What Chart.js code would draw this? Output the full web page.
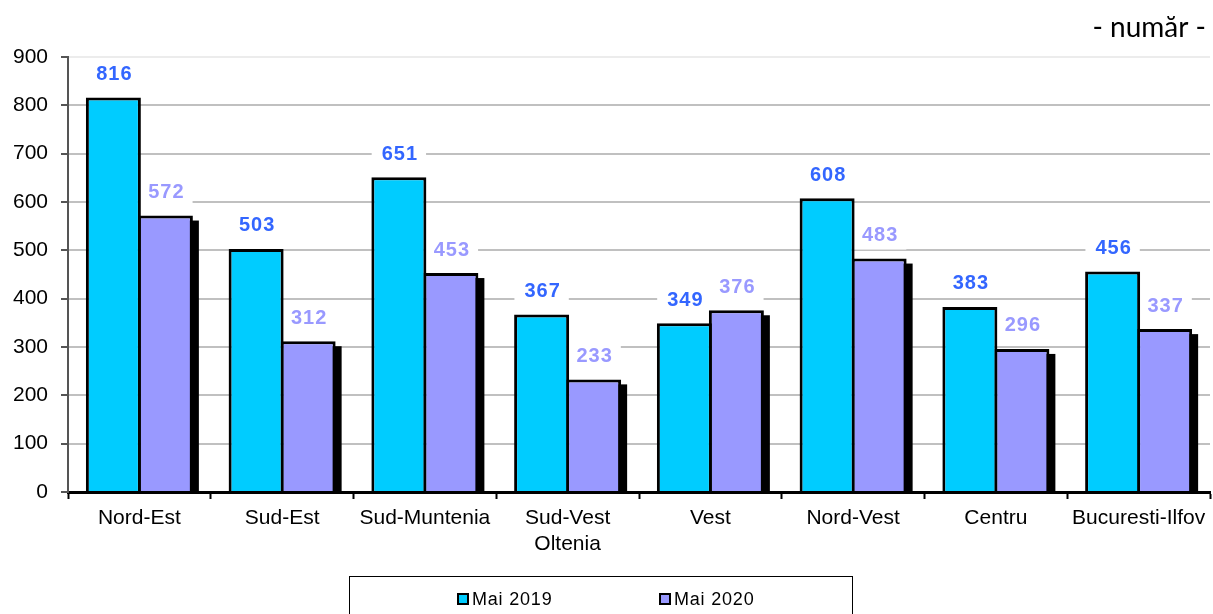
<!DOCTYPE html>
<html>
<head>
<meta charset="utf-8">
<script src="https://cdn.jsdelivr.net/npm/chart.js@4.4.1/dist/chart.umd.min.js"></script>
<style>
  html, body { margin: 0; padding: 0; background: #ffffff; }
  #wrap { width: 1213px; height: 614px; position: relative; }
</style>
</head>
<body>
<div id="wrap"><canvas id="regChart" width="1213" height="614"></canvas></div>
<script>
// Data
const regions = ['Nord-Est', 'Sud-Est', 'Sud-Muntenia', ['Sud-Vest', 'Oltenia'], 'Vest', 'Nord-Vest', 'Centru', 'Bucuresti-Ilfov'];
const mai2019 = [816, 503, 651, 367, 349, 608, 383, 456];
const mai2020 = [572, 312, 453, 233, 376, 483, 296, 337];
const seriesNames = ['Mai 2019', 'Mai 2020'];
const yMin = 0;
const yMax = 900;
const yStep = 100;

const FONT = "'Liberation Sans', Arial, sans-serif";
const barColors = ['#00CCFF', '#9999FF'];
const labelColors = ['#3366FF', '#9999FF'];

// black drop shadow behind the right-hand bar of each group
const shadowPlugin = {
  id: 'barShadow',
  beforeDatasetsDraw(chart) {
    const ctx = chart.ctx;
    const area = chart.chartArea;
    const last = chart.data.datasets.length - 1;
    ctx.save();
    ctx.beginPath();
    ctx.rect(area.left, area.top, area.right - area.left + 10, area.bottom - area.top);
    ctx.clip();
    ctx.fillStyle = '#000000';
    chart.getDatasetMeta(last).data.forEach(bar => {
      const p = bar.getProps(['x', 'y', 'width', 'base'], true);
      ctx.fillRect(p.x - p.width / 2 + 6, p.y + 5, p.width, p.base - p.y - 5);
    });
    ctx.restore();
  }
};

// value labels on white boxes above bars (drawn under the bars so borders stay visible)
const valueLabelPlugin = {
  id: 'valueLabels',
  beforeDatasetsDraw(chart) {
    const ctx = chart.ctx;
    ctx.save();
    ctx.font = 'bold 20px ' + FONT;
    ctx.letterSpacing = '1px';
    ctx.textAlign = 'center';
    ctx.textBaseline = 'middle';
    chart.data.datasets.forEach((ds, i) => {
      chart.getDatasetMeta(i).data.forEach((bar, j) => {
        const text = String(ds.data[j]);
        const cx = bar.x;
        const cy = bar.y - 24;
        const w = ctx.measureText(text).width + 18;
        ctx.fillStyle = '#ffffff';
        ctx.fillRect(cx - w / 2, cy - 15, w, 30);
        ctx.fillStyle = labelColors[i];
        ctx.fillText(text, cx + 1, cy + 1);
      });
    });
    ctx.restore();
  }
};

// unit note and boxed legend
const decorPlugin = {
  id: 'decor',
  afterDraw(chart) {
    const ctx = chart.ctx;
    ctx.save();
    ctx.fillStyle = '#000000';
    ctx.font = "28px Lato, 'Open Sans', sans-serif";
    ctx.textAlign = 'right';
    ctx.textBaseline = 'middle';
    ctx.fillText('- număr -', 1206, 28);

    // legend frame
    ctx.strokeStyle = '#000000';
    ctx.lineWidth = 1;
    ctx.strokeRect(349.5, 576.5, 503, 60);

    const itemX = [457, 659];
    ctx.font = '18px ' + FONT;
    ctx.letterSpacing = '0.8px';
    ctx.textAlign = 'left';
    chart.data.datasets.forEach((ds, i) => {
      const x = itemX[i];
      ctx.fillStyle = '#000000';
      ctx.fillRect(x, 593, 12, 12);
      ctx.fillStyle = ds.backgroundColor;
      ctx.fillRect(x + 2, 595, 8, 8);
      ctx.fillStyle = '#000000';
      ctx.fillText(ds.label, x + 15, 600);
    });
    ctx.restore();
  }
};

const ctx = document.getElementById('regChart').getContext('2d');
new Chart(ctx, {
  type: 'bar',
  data: {
    labels: regions,
    datasets: [
      {
        label: seriesNames[0],
        data: mai2019,
        backgroundColor: barColors[0],
        borderColor: '#000000',
        borderWidth: 3,
        borderSkipped: 'bottom'
      },
      {
        label: seriesNames[1],
        data: mai2020,
        backgroundColor: barColors[1],
        borderColor: '#000000',
        borderWidth: 3,
        borderSkipped: 'bottom'
      }
    ]
  },
  options: {
    responsive: false,
    animation: false,
    devicePixelRatio: 1,
    layout: {
      padding: { top: 57, right: 3, bottom: 0, left: 0 }
    },
    datasets: {
      bar: {
        // bars overlap slightly so neighbours share one border line
        categoryPercentage: 0.7286,
        barPercentage: 1.0577
      }
    },
    plugins: {
      legend: { display: false },
      tooltip: { enabled: false },
      title: { display: false }
    },
    scales: {
      x: {
        afterFit(scale) { scale.height = 122; },
        grid: {
          offset: true,
          drawOnChartArea: false,
          drawTicks: true,
          tickLength: 7,
          tickColor: '#000000',
          tickWidth: 2
        },
        border: { color: '#000000', width: 3 },
        ticks: {
          color: '#000000',
          padding: 7,
          maxRotation: 0,
          autoSkip: false,
          font: { family: FONT, size: 21, lineHeight: 1.2 }
        }
      },
      y: {
        min: yMin,
        max: yMax,
        afterFit(scale) { scale.width = 68; },
        grid: {
          color: ctx2 => (ctx2.tick && ctx2.tick.value === yMax) ? '#ececec' : '#c0c0c0',
          lineWidth: 2,
          drawTicks: true,
          tickLength: 7,
          tickColor: '#555555',
          tickWidth: 2
        },
        border: { color: '#555555', width: 2 },
        ticks: {
          stepSize: yStep,
          color: '#000000',
          padding: 13,
          font: { family: FONT, size: 21 }
        }
      }
    }
  },
  plugins: [shadowPlugin, valueLabelPlugin, decorPlugin]
});
</script>
</body>
</html>
